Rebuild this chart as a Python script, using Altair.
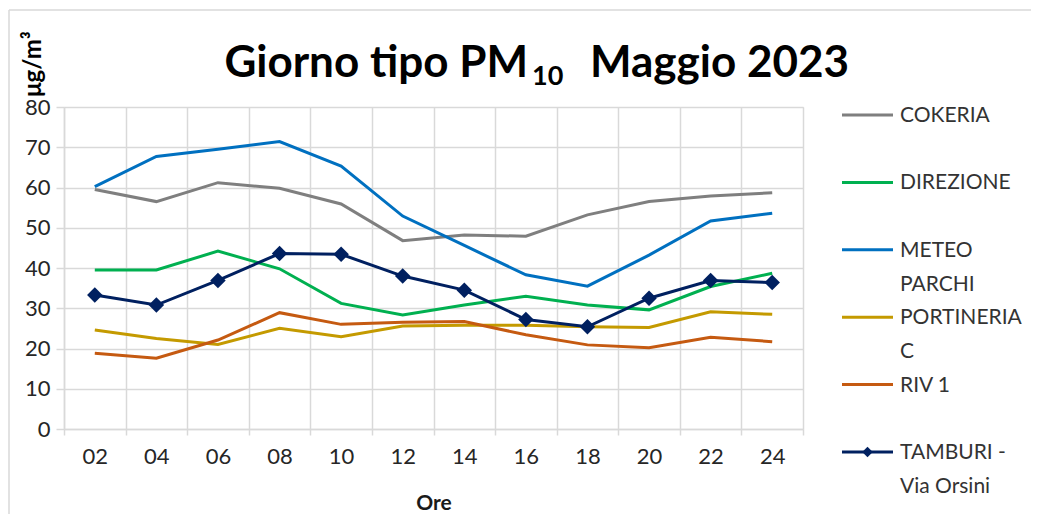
import altair as alt
import pandas as pd

hours = ["02", "04", "06", "08", "10", "12", "14", "16", "18", "20", "22", "24"]
series_names = ["COKERIA", "DIREZIONE", "METEO PARCHI", "PORTINERIA C", "RIV 1", "TAMBURI - Via Orsini"]
legend_labels = ["COKERIA", "DIREZIONE", "METEO\nPARCHI", "PORTINERIA\nC", "RIV 1", "TAMBURI -\nVia Orsini"]
colors = ["#7f7f7f", "#00b050", "#0070c0", "#c49a00", "#c55a11", "#002060"]

cokeria = [59.5, 56.5, 61.2, 59.8, 55.9, 46.8, 48.2, 47.9, 53.2, 56.5, 57.9, 58.7]
direzione = [39.5, 39.5, 44.2, 39.8, 31.2, 28.3, 30.8, 33.0, 30.8, 29.6, 35.4, 38.7]
meteo = [60.2, 67.7, 69.5, 71.4, 65.3, 52.9, 45.6, 38.3, 35.5, 43.2, 51.7, 53.6]
portineria = [24.6, 22.5, 21.0, 25.0, 22.9, 25.6, 25.8, 25.8, 25.4, 25.2, 29.1, 28.5]
riv1 = [18.8, 17.6, 22.1, 28.9, 26.0, 26.5, 26.7, 23.4, 20.9, 20.2, 22.8, 21.7]
tamburi = [33.3, 30.8, 36.9, 43.6, 43.4, 38.0, 34.5, 27.2, 25.4, 32.5, 36.9, 36.4]

all_vals = [cokeria, direzione, meteo, portineria, riv1, tamburi]
rows = []
for name, vals in zip(series_names, all_vals):
    for h, v in zip(hours, vals):
        rows.append({"hour": h, "series": name, "value": v, "order": series_names.index(name)})
df = pd.DataFrame(rows)

leg_df = pd.DataFrame({"series": series_names, "label": legend_labels, "row": list(range(len(series_names)))})

FONT = "Lato"
W, H = 739, 322

color_scale = alt.Scale(domain=series_names, range=colors)

x_enc = alt.X(
    "hour:O",
    sort=hours,
    scale=alt.Scale(type="band", paddingInner=0, paddingOuter=0),
    bandPosition=0.5,
    axis=alt.Axis(
        title="Ore", tickBand="extent", grid=True, gridColor="#d9d9d9", gridWidth=1.5,
        labelAngle=0, labelFontSize=22, labelFont=FONT, labelColor="#262626", labelPadding=11,
        tickSize=6, tickColor="#d9d9d9", tickWidth=1.5, domainColor="#d9d9d9", domainWidth=1.5,
        titleFont=FONT, titleFontSize=21, titleFontWeight="bold", titleColor="#1a1a1a", titlePadding=25,
    ),
)
y_enc = alt.Y(
    "value:Q",
    scale=alt.Scale(domain=[0, 80], nice=False),
    axis=alt.Axis(
        title=None, values=list(range(0, 81, 10)), grid=True, gridColor="#d9d9d9", gridWidth=1.5,
        labelFontSize=22, labelFont=FONT, labelColor="#262626", labelPadding=6,
        tickSize=8, tickColor="#d9d9d9", tickWidth=1.5, domainColor="#d9d9d9", domainWidth=1.5,
    ),
)

lines = alt.Chart(df).mark_line(strokeWidth=3).encode(
    x=x_enc, y=y_enc,
    color=alt.Color("series:N", scale=color_scale, legend=None),
    order=alt.Order("order:Q"),
)
points = alt.Chart(df).transform_filter(alt.datum.series == series_names[-1]).mark_point(
    shape="diamond", filled=True, size=240, opacity=1
).encode(
    x=x_enc, y=y_enc,
    color=alt.Color("series:N", scale=color_scale, legend=None),
)

one = alt.Chart(leg_df).transform_filter(alt.datum.row == 0)

# title pieces
t1 = one.mark_text(
    text="Giorno tipo PM", font=FONT, fontSize=44, fontWeight="bold", align="right", baseline="alphabetic", color="#000000"
).encode(x=alt.value(464), y=alt.value(-30))
t2 = one.mark_text(
    text="10", font=FONT, fontSize=27, fontWeight="bold", align="left", baseline="alphabetic", color="#000000"
).encode(x=alt.value(468), y=alt.value(-22))
t3 = one.mark_text(
    text="Maggio 2023", font=FONT, fontSize=44, fontWeight="bold", align="left", baseline="alphabetic", color="#000000"
).encode(x=alt.value(526), y=alt.value(-30))
ytitle = one.mark_text(
    text="μg/m³", font=FONT, fontSize=24, fontWeight="bold", align="left", baseline="middle", angle=270, color="#000000"
).encode(x=alt.value(-30), y=alt.value(-10))

# frame lines (chart area border)
frame_left = one.mark_rule(color="#d9d9d9", strokeWidth=1.5).encode(
    x=alt.value(-55), y=alt.value(-97), y2=alt.value(407))
frame_top = one.mark_rule(color="#d9d9d9", strokeWidth=1.5).encode(
    x=alt.value(-55), x2=alt.value(969), y=alt.value(-97))

leg_y = alt.Y("row:Q", scale=alt.Scale(domain=[0, 5], range=[8, 345]), axis=None)
leg_lines = alt.Chart(leg_df).mark_rule(strokeWidth=3).encode(
    x=alt.value(778), x2=alt.value(829), y=leg_y,
    color=alt.Color("series:N", scale=color_scale, legend=None),
)
leg_pt = alt.Chart(leg_df).transform_filter(alt.datum.row == 5).mark_point(
    shape="diamond", filled=True, size=110, opacity=1
).encode(x=alt.value(803.5), y=leg_y, color=alt.Color("series:N", scale=color_scale, legend=None))
leg_text = alt.Chart(leg_df).mark_text(
    align="left", baseline="alphabetic", lineBreak="\n", lineHeight=34, fontSize=21, font=FONT, color="#333333", dy=7
).encode(x=alt.value(836), y=leg_y, text="label:N")

main = alt.layer(lines, points)
legend = alt.layer(leg_lines, leg_pt, leg_text)
deco = alt.layer(t1, t2, t3, ytitle, frame_left, frame_top)

chart = alt.layer(main, legend, deco).resolve_scale(y="independent").properties(
    width=W, height=H,
    autosize=alt.AutoSizeParams(type="none"),
    padding={"left": 56, "top": 99, "right": 228, "bottom": 85},
).configure_view(stroke="#d9d9d9", strokeWidth=1.5).configure(background="white")

chart.save("out.html", embed_options={"renderer": "svg", "actions": False})
